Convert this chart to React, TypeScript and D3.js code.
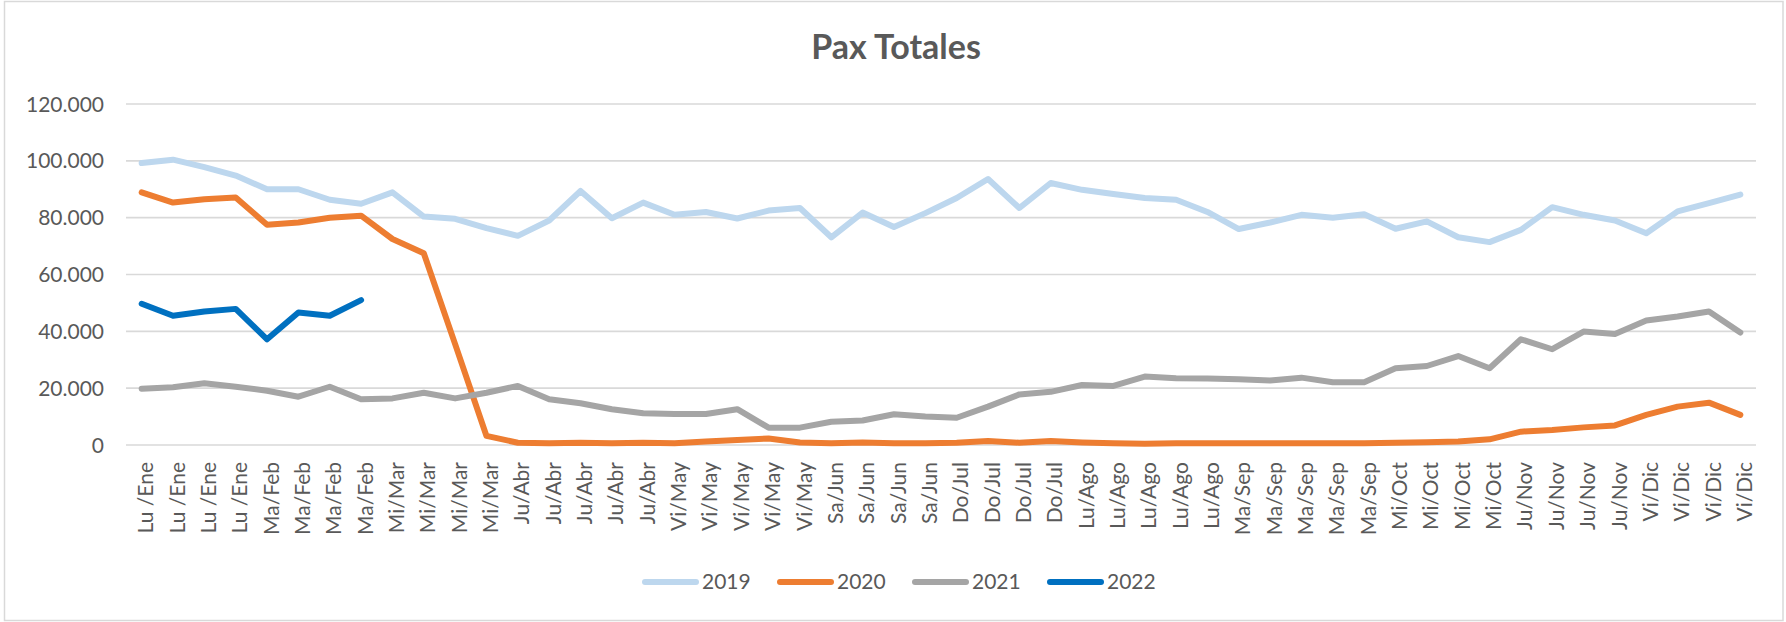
import React from "react";
import * as d3 from "d3";

const xLabels = [
  "Lu /Ene", "Lu /Ene", "Lu /Ene", "Lu /Ene",
  "Ma/Feb", "Ma/Feb", "Ma/Feb", "Ma/Feb",
  "Mi/Mar", "Mi/Mar", "Mi/Mar", "Mi/Mar",
  "Ju/Abr", "Ju/Abr", "Ju/Abr", "Ju/Abr", "Ju/Abr",
  "Vi/May", "Vi/May", "Vi/May", "Vi/May", "Vi/May",
  "Sa/Jun", "Sa/Jun", "Sa/Jun", "Sa/Jun",
  "Do/Jul", "Do/Jul", "Do/Jul", "Do/Jul",
  "Lu/Ago", "Lu/Ago", "Lu/Ago", "Lu/Ago", "Lu/Ago",
  "Ma/Sep", "Ma/Sep", "Ma/Sep", "Ma/Sep", "Ma/Sep",
  "Mi/Oct", "Mi/Oct", "Mi/Oct", "Mi/Oct",
  "Ju/Nov", "Ju/Nov", "Ju/Nov", "Ju/Nov",
  "Vi/Dic", "Vi/Dic", "Vi/Dic", "Vi/Dic",
];

const pax2019 = [
  99200, 100400, 97800, 94800, 90000, 90000, 86300, 84900, 88900, 80400,
  79600, 76300, 73600, 79000, 89400, 79800, 85300, 81000, 82000, 79700,
  82500, 83400, 73100, 81800, 76700, 81600, 86900, 93600, 83400, 92200,
  89800, 88300, 86900, 86300, 82000, 76000, 78300, 81000, 80000, 81200,
  76100, 78700, 73100, 71400, 75700, 83700, 81000, 79000, 74500, 82200,
  85100, 88100,
];

const pax2020 = [
  88900, 85300, 86500, 87100, 77500, 78300, 80000, 80700, 72500, 67500,
  35500, 3200, 800, 600, 800, 600, 800, 600, 1200, 1800,
  2300, 900, 600, 900, 600, 600, 800, 1400, 800, 1400,
  900, 600, 400, 600, 600, 600, 600, 600, 600, 600,
  800, 1000, 1200, 2000, 4700, 5300, 6200, 6900, 10600, 13500,
  14900, 10600,
];

const pax2021 = [
  19800, 20300, 21700, 20500, 19100, 17000, 20500, 16100, 16400, 18400,
  16400, 18400, 20800, 16100, 14700, 12600, 11200, 10900, 10900, 12600,
  6100, 6100, 8200, 8600, 10800, 10000, 9600, 13500, 17800, 18700,
  21100, 20800, 24100, 23500, 23400, 23100, 22700, 23700, 22100, 22100,
  27000, 27800, 31300, 27000, 37200, 33700, 39900, 39100, 43800, 45200,
  47000, 39600,
];

const pax2022 = [49700, 45500, 47000, 47900, 37200, 46600, 45500, 51000];

const seriesNames = ["2019", "2020", "2021", "2022"];
const seriesColors = ["#BDD7EE", "#ED7D31", "#A5A5A5", "#0070C0"];
const yTicks = [0, 20000, 40000, 60000, 80000, 100000, 120000];

const W = 1786;
const H = 622;
const font = "Lato, 'Open Sans', sans-serif";
const textColor = "#595959";

const fmt = d3.formatLocale({
  decimal: ",",
  thousands: ".",
  grouping: [3],
  currency: ["", ""],
}).format(",d");

export default function App() {
  const series = [pax2019, pax2020, pax2021, pax2022];

  const x = d3
    .scaleBand<number>()
    .domain(d3.range(xLabels.length))
    .range([126, 1756]);
  const cx = (i: number) => (x(i) as number) + x.bandwidth() / 2;

  const y = d3.scaleLinear().domain([0, 120000]).range([445, 104]);

  const line = d3
    .line<number>()
    .x((d, i) => cx(i))
    .y((d) => y(d));

  // legend layout
  const legendX = d3.scaleLinear().domain([0, 1]).range([642, 777]);

  return (
    <div style={{ position: "absolute", left: 0, top: 0 }}>
      <svg width={W} height={H} style={{ display: "block", background: "#fff" }}>
        <rect x={4.5} y={1.5} width={1778.5} height={619} fill="#fff" stroke="#D9D9D9" strokeWidth={1.5} />

        <text x={896} y={59} textAnchor="middle" fontFamily={font} fontWeight="bold" fontSize={34} fill={textColor}>
          Pax Totales
        </text>

        {/* grid + y axis */}
        {yTicks.map((t) => (
          <g key={t}>
            <line x1={126} x2={1756} y1={y(t)} y2={y(t)} stroke="#D9D9D9" strokeWidth={1.6} />
            <text x={104} y={y(t)} dy="0.36em" textAnchor="end" fontFamily={font} fontSize={21} fill={textColor}>
              {fmt(t)}
            </text>
          </g>
        ))}

        {/* x labels */}
        {xLabels.map((lab, i) => (
          <text
            key={i}
            transform={`translate(${cx(i)},462) rotate(-90)`}
            dy="0.55em"
            textAnchor="end"
            fontFamily={font}
            fontSize={21}
            fill={textColor}
          >
            {lab}
          </text>
        ))}

        {/* lines */}
        {series.map((s, k) => (
          <path
            key={k}
            d={line(s) || ""}
            fill="none"
            stroke={seriesColors[k]}
            strokeWidth={6}
            strokeLinejoin="round"
            strokeLinecap="round"
          />
        ))}

        {/* legend */}
        {seriesNames.map((name, k) => {
          const lx = legendX(k);
          return (
            <g key={name}>
              <line x1={lx + 3} x2={lx + 54} y1={582} y2={582} stroke={seriesColors[k]} strokeWidth={6} strokeLinecap="round" />
              <text x={lx + 60} y={582} dy="0.35em" fontFamily={font} fontSize={21} fill={textColor}>
                {name}
              </text>
            </g>
          );
        })}
      </svg>
    </div>
  );
}
